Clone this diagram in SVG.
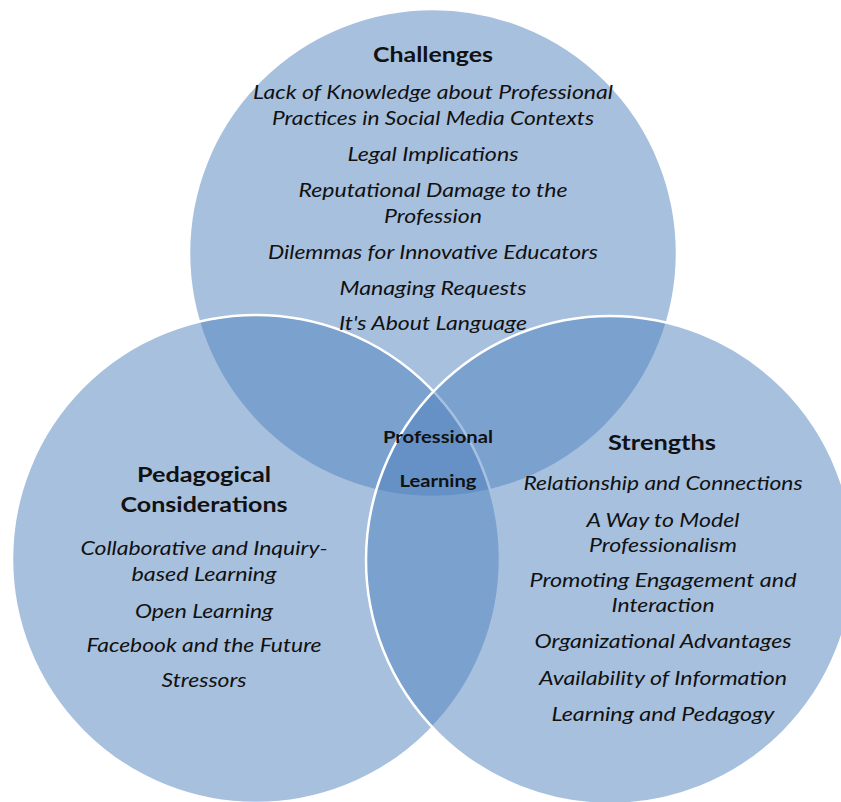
<svg xmlns="http://www.w3.org/2000/svg" width="841" height="802" viewBox="0 0 841 802">
<style>
.set{fill:#4F81BD;fill-opacity:0.5;stroke:#FFFFFF;stroke-width:2.5}
text{font-family:Lato,"Liberation Sans",sans-serif;fill:#111;text-anchor:middle}
.h{font-weight:bold;font-size:21px}
.i{font-style:italic;font-size:20px}
.c{font-weight:bold;font-size:17px}
</style>
<rect width="841" height="802" fill="#FFFFFF"/>
<g id="sets">
<circle id="set-challenges" class="set" cx="433" cy="253" r="244"/>
<circle id="set-pedagogical" class="set" cx="256" cy="559" r="244"/>
<circle id="set-strengths" class="set" cx="610" cy="560" r="244"/>
</g>
<g id="challenges">
<text class="h" x="433" y="62" textLength="120" lengthAdjust="spacingAndGlyphs">Challenges</text>
<text class="i" x="433" y="99" textLength="360" lengthAdjust="spacingAndGlyphs">Lack of Knowledge about Professional</text>
<text class="i" x="433" y="125" textLength="322" lengthAdjust="spacingAndGlyphs">Practices in Social Media Contexts</text>
<text class="i" x="433" y="161" textLength="171" lengthAdjust="spacingAndGlyphs">Legal Implications</text>
<text class="i" x="433" y="197" textLength="269" lengthAdjust="spacingAndGlyphs">Reputational Damage to the</text>
<text class="i" x="433" y="223" textLength="98" lengthAdjust="spacingAndGlyphs">Profession</text>
<text class="i" x="433" y="259" textLength="330" lengthAdjust="spacingAndGlyphs">Dilemmas for Innovative Educators</text>
<text class="i" x="433" y="295" textLength="187" lengthAdjust="spacingAndGlyphs">Managing Requests</text>
<text class="i" x="433" y="330" textLength="188" lengthAdjust="spacingAndGlyphs">It's About Language</text>
</g>
<g id="pedagogical">
<text class="h" x="204" y="482" textLength="134" lengthAdjust="spacingAndGlyphs">Pedagogical</text>
<text class="h" x="204" y="512" textLength="167" lengthAdjust="spacingAndGlyphs">Considerations</text>
<text class="i" x="204" y="555" textLength="247" lengthAdjust="spacingAndGlyphs">Collaborative and Inquiry-</text>
<text class="i" x="204" y="581" textLength="145" lengthAdjust="spacingAndGlyphs">based Learning</text>
<text class="i" x="204" y="618" textLength="138" lengthAdjust="spacingAndGlyphs">Open Learning</text>
<text class="i" x="204" y="652" textLength="235" lengthAdjust="spacingAndGlyphs">Facebook and the Future</text>
<text class="i" x="204" y="687" textLength="85" lengthAdjust="spacingAndGlyphs">Stressors</text>
</g>
<g id="strengths">
<text class="h" x="662" y="450" textLength="108" lengthAdjust="spacingAndGlyphs">Strengths</text>
<text class="i" x="663" y="490" textLength="279" lengthAdjust="spacingAndGlyphs">Relationship and Connections</text>
<text class="i" x="663" y="527" textLength="153" lengthAdjust="spacingAndGlyphs">A Way to Model</text>
<text class="i" x="663" y="552" textLength="148" lengthAdjust="spacingAndGlyphs">Professionalism</text>
<text class="i" x="663" y="587" textLength="267" lengthAdjust="spacingAndGlyphs">Promoting Engagement and</text>
<text class="i" x="663" y="612" textLength="103" lengthAdjust="spacingAndGlyphs">Interaction</text>
<text class="i" x="663" y="648" textLength="257" lengthAdjust="spacingAndGlyphs">Organizational Advantages</text>
<text class="i" x="663" y="685" textLength="248" lengthAdjust="spacingAndGlyphs">Availability of Information</text>
<text class="i" x="663" y="721" textLength="223" lengthAdjust="spacingAndGlyphs">Learning and Pedagogy</text>
</g>
<g id="professional-learning">
<text class="c" x="438" y="443" textLength="110" lengthAdjust="spacingAndGlyphs">Professional</text>
<text class="c" x="438" y="487" textLength="77" lengthAdjust="spacingAndGlyphs">Learning</text>
</g>
</svg>
